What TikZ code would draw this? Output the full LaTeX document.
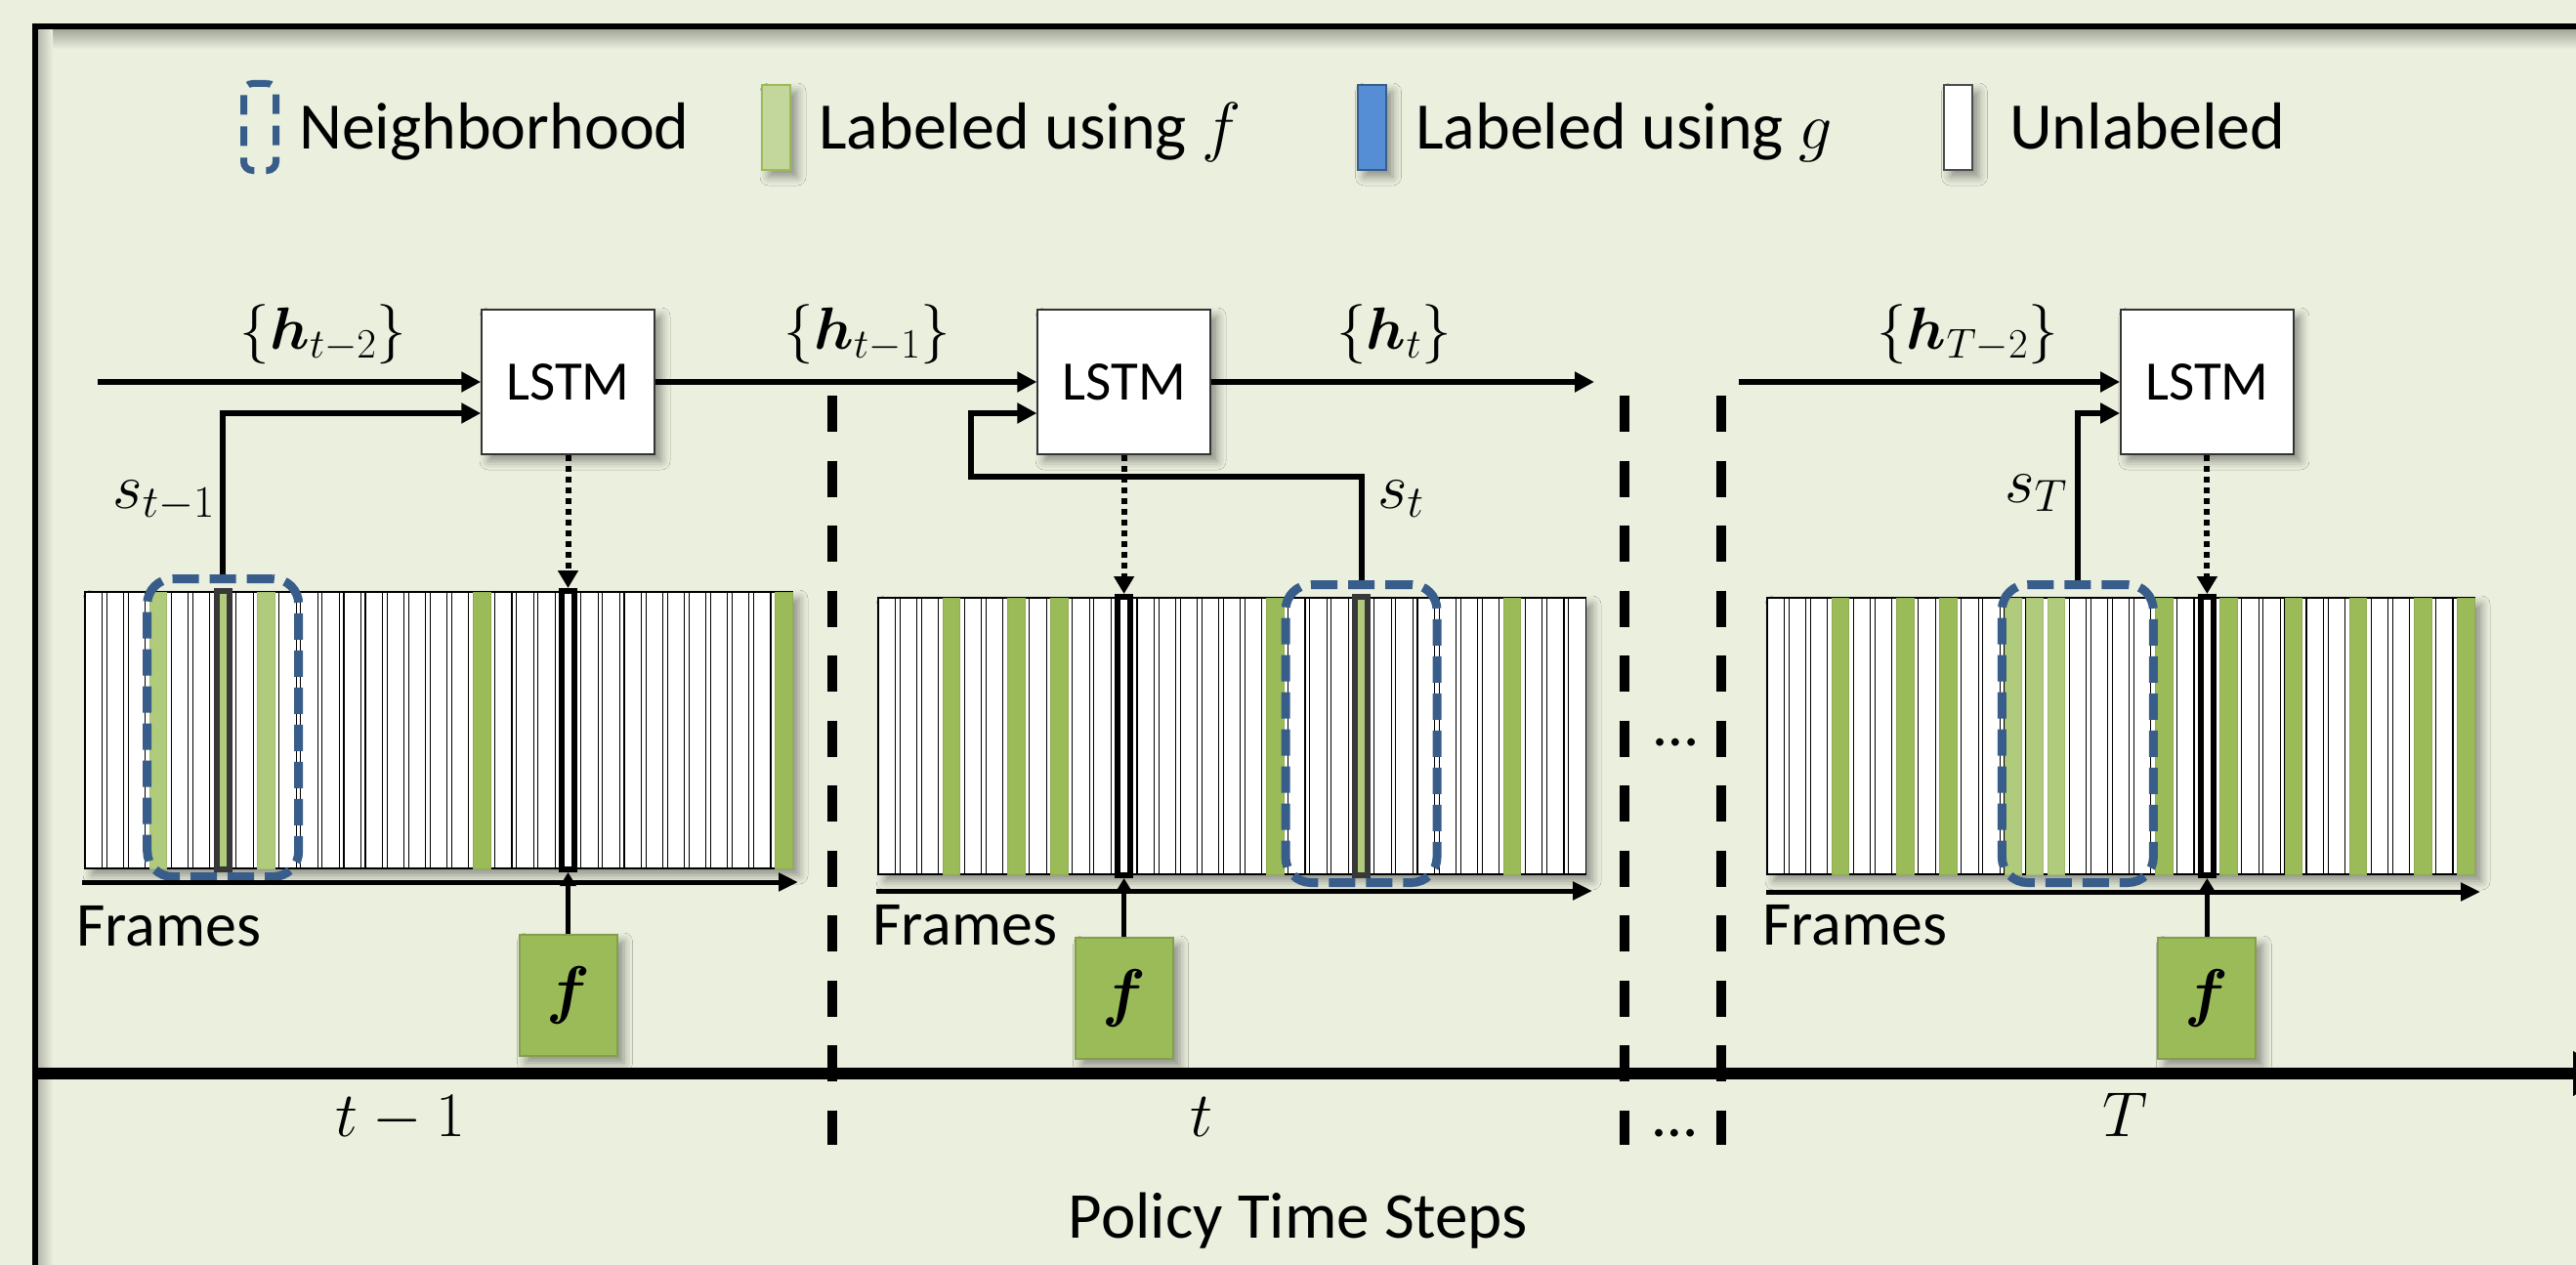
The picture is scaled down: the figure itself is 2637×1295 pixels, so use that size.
\RequirePackage{fix-cm}
\documentclass[tikz,border=0pt]{standalone}
\usepackage{amsmath}
\usepackage{bm}
\usepackage[no-math]{fontspec}
\setmainfont{Carlito}
\usetikzlibrary{arrows.meta,calc,shadows.blur}

\definecolor{bgc}{RGB}{234,239,222}
\definecolor{gfr}{RGB}{155,187,89}
\definecolor{lgfr}{RGB}{176,203,124}
\definecolor{leggreen}{RGB}{195,214,155}
\definecolor{legblue}{RGB}{85,142,213}
\definecolor{nbblue}{RGB}{56,93,138}

\tikzset{
  softshadow/.style={blur shadow={shadow xshift=7pt, shadow yshift=-7pt,
      shadow blur radius=9pt, shadow opacity=40}},
  lstm/.style={draw=black!80, line width=1.5pt, fill=white, minimum width=177pt,
      minimum height=148pt, inner sep=0pt, font=\fontsize{57}{60}\selectfont, softshadow},
  fbox/.style={draw=gfr!85!black, line width=2pt, fill=gfr, minimum width=100pt,
      minimum height=124pt, inner sep=0pt, font=\fontsize{66}{70}\selectfont, softshadow},
  strip/.style={draw=black, line width=1.2pt, fill=white, minimum width=724pt,
      minimum height=283pt, inner sep=0pt, outer sep=0pt, anchor=north west, softshadow},
  frm/.style={draw=black, line width=1.1pt, fill=white},
  gframe/.style={fill=gfr, draw=gfr!92!black, line width=0.8pt},
  lframe/.style={fill=lgfr, draw=lgfr!92!black, line width=0.8pt},
  selw/.style={draw=black, line width=6pt, fill=white, minimum width=13pt,
      minimum height=285pt, inner sep=0pt},
  selg/.style={draw=black!78, line width=6pt, fill=lgfr, minimum width=13pt,
      minimum height=285pt, inner sep=0pt},
  nbhd/.style={draw=nbblue, line width=9pt, dash pattern=on 27pt off 11pt,
      rounded corners=26pt, minimum width=155pt, minimum height=305pt, inner sep=0pt},
  conn/.style={line width=6pt, -{Triangle[length=20pt,width=20pt]}},
  dotconn/.style={line width=6pt, dash pattern=on 6pt off 5pt,
      -{Triangle[length=18pt,width=20pt]}},
  fconn/.style={line width=5pt, -{Triangle[length=14pt,width=16pt]}},
  faxis/.style={line width=5pt, -{Triangle[length=20pt,width=18pt]}},
  sepline/.style={line width=10pt, dash pattern=on 37pt off 29.5pt},
  taxis/.style={line width=12pt, -{Triangle[length=34pt,width=44pt]}},
  lbl/.style={inner sep=0pt, font=\fontsize{64}{70}\selectfont},
  leglbl/.style={inner sep=0pt, font=\fontsize{68}{72}\selectfont, anchor=base west},
  mlbl/.style={inner sep=0pt, font=\fontsize{61}{66}\selectfont},
  slbl/.style={inner sep=0pt, font=\fontsize{66}{70}\selectfont},
  tlbl/.style={inner sep=0pt, font=\fontsize{65}{70}\selectfont, anchor=base},
  legbar/.style={line width=2pt, minimum width=29pt, minimum height=87pt, inner sep=0pt, softshadow},
}

\begin{document}
\begin{tikzpicture}[x=1pt, y=-1pt]
\useasboundingbox (0,0) rectangle (2637,1295);
\clip (0,0) rectangle (2637,1295);

% background, panel border and its inner shade
\fill[bgc] (0,0) rectangle (2637,1295);
\shade[top color=black!30!bgc, bottom color=bgc] (39,30) rectangle (2637,50);
\shade[left color=black!22!bgc, right color=bgc] (39,30) rectangle (54,1295);
\draw[line width=6pt] (36,27) rectangle (2720,1380);

% legend
\node[draw=nbblue, line width=7pt, dash pattern=on 20pt off 12pt, rounded corners=9pt,
      minimum width=33pt, minimum height=89pt, inner sep=0pt] (legNb) at (266,130) {};
\node[leglbl] (legNbT) at (306,153) {Neighborhood};
\node[legbar, fill=leggreen, draw=gfr] (legF) at (794.5,130.5) {};
\node[leglbl] (legFT) at (838,153) {Labeled using $f$};
\node[legbar, fill=legblue, draw=nbblue] (legG) at (1404,130.5) {};
\node[leglbl] (legGT) at (1449,153) {Labeled using $g$};
\node[legbar, fill=white, draw=black!70] (legU) at (2004,130.5) {};
\node[leglbl] (legUT) at (2057,153) {Unlabeled};

% policy step separators
\coordinate (sepAt) at (852,405);  \coordinate (sepAb) at (852,1172);
\coordinate (sepBt) at (1663,405); \coordinate (sepBb) at (1663,1172);
\coordinate (sepCt) at (1762,405); \coordinate (sepCb) at (1762,1172);
\draw[sepline] (sepAt) -- (sepAb);
\draw[sepline] (sepBt) -- (sepBb);
\draw[sepline] (sepCt) -- (sepCb);

% policy time axis
\coordinate (taxS) at (36,1099);
\coordinate (taxE) at (2668,1099);
\draw[taxis] (taxS) -- (taxE);

% ---------- frame strips ----------
\node[strip] (stripA) at (87,606) {};
\node[strip] (stripB) at (899,612) {};
\node[strip] (stripC) at (1809,612) {};

\foreach \s in {stripA,stripB,stripC}{
  \foreach \i in {0,...,32}
    \draw[frm] ($(\s.north west)+(\i*22.08,0)$) rectangle ++(17.5,283);
}
% frames labelled with f
\foreach \i in {18,32}
  \draw[gframe] ($(stripA.north west)+(\i*22.08,0)$) rectangle ++(17.5,283);
\foreach \i in {3,8}
  \draw[lframe] ($(stripA.north west)+(\i*22.08,0)$) rectangle ++(17.5,283);
\foreach \i in {3,6,8,18,29}
  \draw[gframe] ($(stripB.north west)+(\i*22.08,0)$) rectangle ++(17.5,283);
\foreach \i in {3,6,8,18,21,24,27,30,32}
  \draw[gframe] ($(stripC.north west)+(\i*22.08,0)$) rectangle ++(17.5,283);
\foreach \i in {11,12,13}
  \draw[lframe] ($(stripC.north west)+(\i*22.08,0)$) rectangle ++(17.5,283);

% selected frames
\node[selw] (selA) at ($(stripA.north west)+(22*22.08+8.75,141.5)$) {};
\node[selg] (curA) at ($(stripA.north west)+(6*22.08+8.75,141.5)$) {};
\node[selw] (selB) at ($(stripB.north west)+(11*22.08+8.75,141.5)$) {};
\node[selg] (curB) at ($(stripB.north west)+(22*22.08+8.75,141.5)$) {};
\node[selw] (selC) at ($(stripC.north west)+(20*22.08+8.75,141.5)$) {};

% neighbourhoods
\node[nbhd] (nbA) at ($(stripA.north west)+(6*22.08+8.75,139)$) {};
\node[nbhd] (nbB) at ($(stripB.north west)+(22*22.08+8.75,139)$) {};
\node[nbhd] (nbC) at ($(stripC.north west)+(14*22.08+8.75,139)$) {};

% frame axes
\draw[faxis] ($(stripA.south west)+(-3,14)$) -- ($(stripA.south east)+(6,14)$);
\draw[faxis] ($(stripB.south west)+(-2,17)$) -- ($(stripB.south east)+(7,17)$);
\draw[faxis] ($(stripC.south west)+(-1,18)$) -- ($(stripC.south east)+(6,18)$);
\node[lbl, anchor=base west] (frA) at (78,968) {Frames};
\node[lbl, anchor=base west] (frB) at (893,967) {Frames};
\node[lbl, anchor=base west] (frC) at (1804,967) {Frames};

% ---------- LSTM cells ----------
\coordinate (rowL) at (0,391);
\node[lstm] (lstmA) at (selA |- rowL) {LSTM};
\node[lstm] (lstmB) at (selB |- rowL) {LSTM};
\node[lstm] (lstmC) at (selC |- rowL) {LSTM};

% ---------- f boxes ----------
\coordinate (rowFA) at (0,1019);
\coordinate (rowFB) at (0,1022);
\node[fbox] (fA) at (selA |- rowFA) {$\bm{f}$};
\node[fbox] (fB) at (selB |- rowFB) {$\bm{f}$};
\node[fbox] (fC) at (selC |- rowFB) {$\bm{f}$};

% ---------- connectors ----------
\coordinate (hinA) at (100,391);
\coordinate (houtB) at (1632,391);
\coordinate (hinC) at (1780,391);
\draw[conn] (hinA) -- (lstmA.west);
\draw[conn] (lstmA.east) -- (lstmB.west);
\draw[conn] (lstmB.east) -- (houtB);
\draw[conn] (hinC) -- (lstmC.west);

\draw[conn] (nbA.north) |- ($(lstmA.west)+(0,32)$);
\coordinate (loopB) at (994,488);
\draw[conn] (nbB.north) |- (loopB) |- ($(lstmB.west)+(0,32)$);
\draw[conn] (nbC.north) |- ($(lstmC.west)+(0,32)$);

\draw[dotconn] (lstmA.south) -- (selA.north);
\draw[dotconn] (lstmB.south) -- (selB.north);
\draw[dotconn] (lstmC.south) -- (selC.north);

\draw[fconn] (fA.north) -- (selA.south);
\draw[fconn] (fB.north) -- (selB.south);
\draw[fconn] (fC.north) -- (selC.south);

% ---------- labels ----------
\node[mlbl] (hA) at (331,342) {$\{\bm{h}_{t-2}\}$};
\node[mlbl] (hB) at (888,342) {$\{\bm{h}_{t-1}\}$};
\node[mlbl] (hC) at (1427,342) {$\{\bm{h}_{t}\}$};
\node[mlbl] (hD) at (2014,342) {$\{\bm{h}_{T-2}\}$};

\node[slbl, anchor=base east] (sA) at (220,520) {$s_{t-1}$};
\node[slbl, anchor=base west] (sB) at (1410,520) {$s_t$};
\node[slbl, anchor=base east] (sC) at (2116,514) {$s_T$};

\node[tlbl] (tA) at (410,1163) {$t-1$};
\node[tlbl] (tB) at (1230,1163) {$t$};
\node[tlbl] (tC) at (2176,1163) {$T$};

\node[lbl, anchor=base] (dotsU) at (1716,763) {\dots};
\node[lbl, anchor=base] (dotsL) at (1715,1163) {\dots};

\node[inner sep=0pt, font=\fontsize{67}{72}\selectfont, anchor=base] (pts) at (1329,1267) {Policy Time Steps};
\end{tikzpicture}
\end{document}
